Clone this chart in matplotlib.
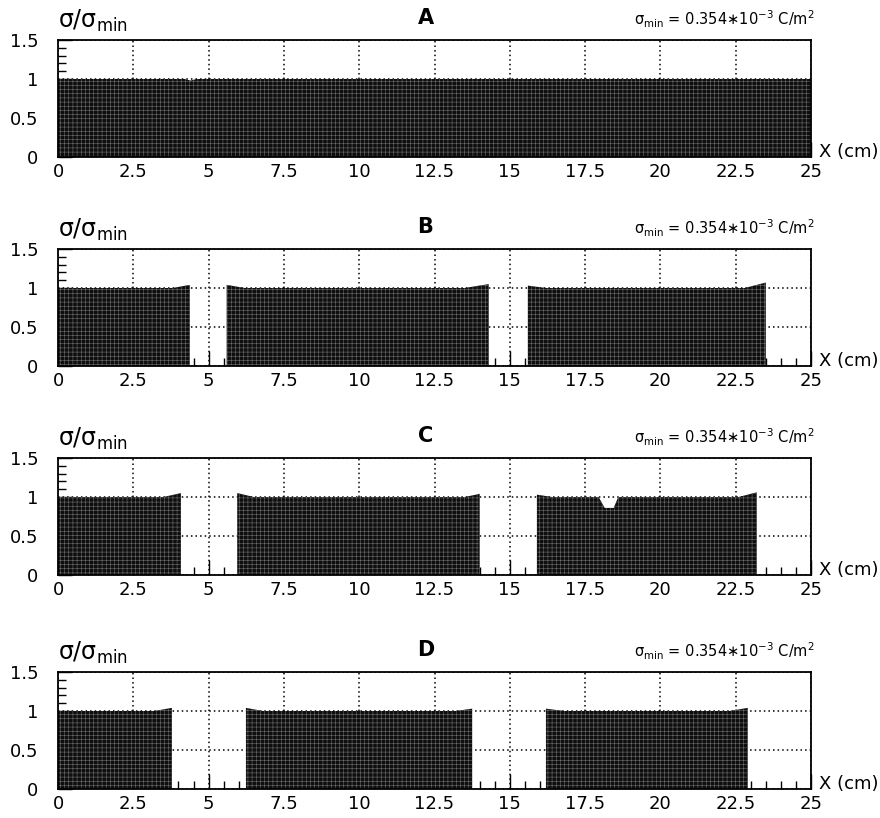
import numpy as np
import matplotlib
matplotlib.use('Agg')
import matplotlib.pyplot as plt
from matplotlib.ticker import MultipleLocator

# panel names and the normalised charge density sigma/sigma_min
panels = ['A', 'B', 'C', 'D']

# every filled segment: (x nodes in cm, sigma/sigma_min at those nodes)
segs_A = [([0.0, 4.2, 4.4, 4.6, 25.0], [1.0, 1.0, 0.98, 1.0, 1.0])]
segs_B = [([0.0, 3.8, 4.38], [1.0, 1.0, 1.04]),
          ([5.6, 6.2, 13.5, 14.3], [1.04, 1.0, 1.0, 1.05]),
          ([15.6, 16.2, 22.8, 23.5], [1.03, 1.0, 1.0, 1.07])]
segs_C = [([0.0, 3.5, 4.08], [1.0, 1.0, 1.05]),
          ([5.95, 6.5, 13.5, 14.0], [1.05, 1.0, 1.0, 1.04]),
          ([15.9, 16.4, 17.95, 18.15, 18.45, 18.6, 22.6, 23.2],
           [1.03, 1.0, 1.0, 0.86, 0.86, 1.0, 1.0, 1.06])]
segs_D = [([0.0, 3.2, 3.78], [1.0, 1.0, 1.04]),
          ([6.24, 6.8, 13.2, 13.75], [1.04, 1.0, 1.0, 1.03]),
          ([16.2, 16.8, 22.3, 22.9], [1.03, 1.0, 1.0, 1.04])]
all_segs = [segs_A, segs_B, segs_C, segs_D]

x_ticks = [0, 2.5, 5, 7.5, 10, 12.5, 15, 17.5, 20, 22.5, 25]
x_ticklabels = ['0', '2.5', '5', '7.5', '10', '12.5', '15', '17.5', '20', '22.5', '25']
y_ticks = [0, 0.5, 1, 1.5]
y_ticklabels = ['0', '0.5', '1', '1.5']

plt.rcParams['hatch.linewidth'] = 0.4

fig = plt.figure(figsize=(8.8, 8.18), dpi=100)
W, H = 880, 818
ax_left, ax_right = 58, 811
tops = [40, 249, 458, 672]
ax_h = 117

for name, segs, top in zip(panels, all_segs, tops):
    ax = fig.add_axes([ax_left / W, 1 - (top + ax_h) / H,
                       (ax_right - ax_left) / W, ax_h / H])
    ax.set_xlim(0, 25)
    ax.set_ylim(0, 1.5)
    ax.set_axisbelow(True)
    ax.grid(True, which='major', linestyle=(0, (1, 2)), color='black', linewidth=1.1)

    for xs, ys in segs:
        ax.fill_between(xs, 0, ys, facecolor='#0e0e0e', edgecolor='#6e6e6e',
                        hatch='++++', linewidth=0, zorder=2)

    ax.set_xticks(x_ticks)
    ax.set_xticklabels(x_ticklabels)
    ax.set_yticks(y_ticks)
    ax.set_yticklabels(y_ticklabels)
    ax.xaxis.set_minor_locator(MultipleLocator(0.5))
    ax.yaxis.set_minor_locator(MultipleLocator(0.1))
    ax.tick_params(which='both', direction='in', top=False, right=False,
                   labelsize=13, width=1.0, zorder=3)
    ax.tick_params(axis='x', which='major', length=11, pad=4)
    ax.tick_params(axis='x', which='minor', length=6)
    ax.tick_params(axis='y', which='major', length=10, pad=14)
    ax.tick_params(axis='y', which='minor', length=6)
    for s in ax.spines.values():
        s.set_linewidth(1.3)
        s.set_zorder(4)

    ax.text(0.0, 1.05, 'σ/σ$_{\\rm min}$', transform=ax.transAxes,
            fontsize=17, ha='left', va='bottom')
    ax.text(0.488, 1.1, name, transform=ax.transAxes, fontsize=15,
            fontweight='bold', ha='center', va='bottom')
    ax.text(0.885, 1.085, 'σ$_{\\rm min}$ = 0.354∗10$^{-3}$ C/m$^2$',
            transform=ax.transAxes, fontsize=10.5, ha='center', va='bottom')
    ax.text(1.01, 0.04, 'X (cm)', transform=ax.transAxes, fontsize=13,
            ha='left', va='center')

fig.savefig('out.png', dpi=100)
